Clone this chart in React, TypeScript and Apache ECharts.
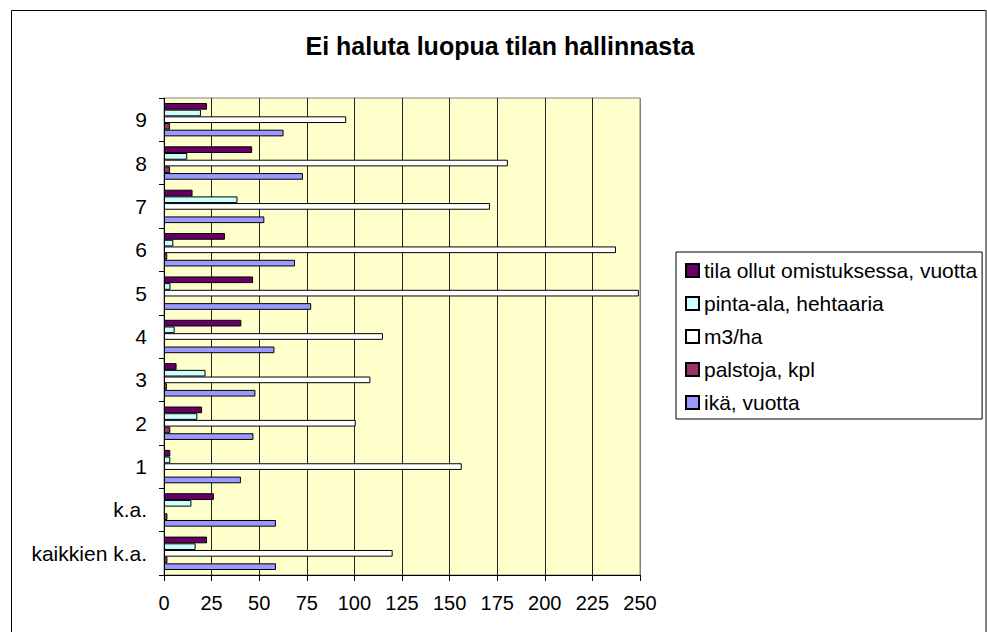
import React, { useEffect, useRef } from "react";
import * as echarts from "echarts";

const categories = ["kaikkien k.a.", "k.a.", "1", "2", "3", "4", "5", "6", "7", "8", "9"];
const ikaValues = [58.8, 58.8, 40.4, 47, 48, 58, 77.3, 68.8, 52.7, 73, 62.8];
const palstojaValues = [1.8, 1.8, null, 3.3, 1.5, null, null, 1.7, null, 3.2, 3.2];
const m3Values = [120.1, null, 156.4, 100.7, 108.4, 115, 249.4, 237.4, 171.2, 180.6, 95.7];
const pintaValues = [16.6, 14.4, 3.3, 17.5, 21.8, 5.6, 3.4, 4.9, 38.6, 12.2, 19.4];
const tilaValues = [22.6, 26.2, 3.3, 20, 6.6, 40.6, 46.8, 32, 15, 46.3, 22.6];
const xTickValues = [0, 25, 50, 75, 100, 125, 150, 175, 200, 225, 250];

// legend order (top to bottom)
const seriesNames = [
  "tila ollut omistuksessa, vuotta",
  "pinta-ala, hehtaaria",
  "m3/ha",
  "palstoja, kpl",
  "ikä, vuotta",
];
const seriesColors = ["#660066", "#CCFFFF", "#FFFFFF", "#993366", "#9999FF"];
const title = "Ei haluta luopua tilan hallinnasta";

const FONT = "'Liberation Sans', Arial, sans-serif";

export default function App() {
  const ref = useRef<HTMLDivElement>(null);
  useEffect(() => {
    if (!ref.current) return;
    const chart = echarts.init(ref.current, null, { renderer: "svg" });
    const values = [tilaValues, pintaValues, m3Values, palstojaValues, ikaValues];
    const splitColors = xTickValues.map((v, i) => (i === xTickValues.length - 1 ? "#808080" : "#222222"));
    chart.setOption({
      animation: false,
      backgroundColor: "#FFFFFF",
      textStyle: { fontFamily: FONT },
      graphic: [
        {
          type: "line",
          shape: { x1: 11.5, y1: 10.5, x2: 986.5, y2: 10.5 },
          style: { stroke: "#000", lineWidth: 1 },
        },
        {
          type: "line",
          shape: { x1: 11.5, y1: 10.5, x2: 11.5, y2: 640 },
          style: { stroke: "#000", lineWidth: 1 },
        },
        {
          type: "line",
          shape: { x1: 986, y1: 10.5, x2: 986, y2: 640 },
          style: { stroke: "#808080", lineWidth: 2 },
        },
        {
          type: "text",
          x: 500,
          y: 46,
          style: {
            text: title,
            fontSize: 25,
            fontWeight: "bold",
            fontFamily: FONT,
            fill: "#000",
            textAlign: "center",
            textVerticalAlign: "middle",
          },
        },
      ],
      grid: {
        left: 164,
        right: 347,
        top: 98,
        bottom: 57,
        show: true,
        backgroundColor: "#FFFFCC",
        borderColor: "#808080",
        borderWidth: 1,
      },
      legend: {
        orient: "vertical",
        left: 676,
        top: 252,
        data: seriesNames,
        icon: "rect",
        itemWidth: 13,
        itemHeight: 13,
        itemGap: 12,
        padding: [8, 5, 6, 9],
        borderColor: "#000",
        borderWidth: 1,
        textStyle: { fontSize: 21, color: "#000", fontFamily: FONT },
      },
      xAxis: {
        type: "value",
        min: 0,
        max: 250,
        interval: 25,
        axisLine: { show: true, lineStyle: { color: "#000", width: 1 } },
        axisTick: { show: true, length: 6, lineStyle: { color: "#000" } },
        axisLabel: { fontSize: 20, color: "#000", margin: 18, fontFamily: FONT },
        splitLine: { show: true, lineStyle: { color: splitColors, width: 1 } },
      },
      yAxis: {
        type: "category",
        data: categories,
        axisLine: { show: true, lineStyle: { color: "#000", width: 1 } },
        axisTick: { show: true, length: 5, lineStyle: { color: "#000" } },
        axisLabel: { fontSize: 21, color: "#000", margin: 17, fontFamily: FONT },
        splitLine: { show: false },
      },
      series: seriesNames.map((name, i) => ({
        name,
        type: "bar",
        data: values[i],
        barCategoryGap: "23%",
        barGap: "0%",
        itemStyle: { color: seriesColors[i], borderColor: "#000", borderWidth: 1 },
      })),
    });
    return () => chart.dispose();
  }, []);
  return (
    <div
      ref={ref}
      style={{ position: "absolute", left: 0, top: 0, width: 987, height: 632 }}
    />
  );
}
